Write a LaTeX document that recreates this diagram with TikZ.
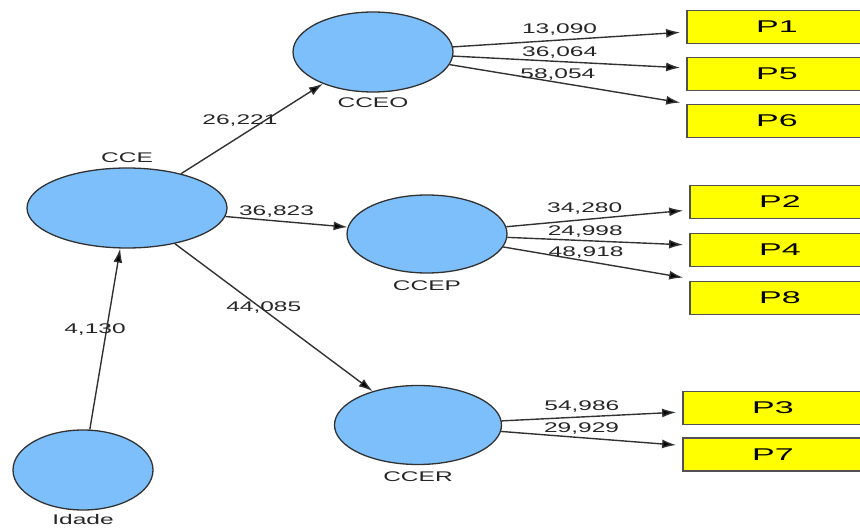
\documentclass[tikz,border=0pt]{standalone}
\usepackage{fontspec}
\setmainfont[FakeStretch=1.75]{Liberation Sans}
\newfontfamily\boxfont[FakeStretch=2]{Liberation Sans}
\usepackage{tikz}
\usetikzlibrary{positioning, arrows.meta, shapes.geometric}

\definecolor{latentblue}{RGB}{124,191,250}
\definecolor{itemyellow}{RGB}{255,255,0}
\definecolor{edgegray}{RGB}{50,50,50}

\tikzset{
  latent/.style={ellipse, draw=edgegray, line width=1.3pt, fill=latentblue, inner sep=0pt},
  item/.style={rectangle, draw=edgegray!85, line width=1.8pt, fill=itemyellow,
    minimum width=180pt, minimum height=33pt, inner sep=0pt,
    font=\boxfont\fontsize{17}{17}\selectfont},
  lbl/.style={font=\fontsize{14}{14}\selectfont, text=black!85, inner sep=0pt,
    xshift=-10pt, yshift=10pt},
  tobox/.style={shorten >=6pt}
}

\begin{document}
\begin{tikzpicture}
	[x=1pt, y=-1pt, on grid, >={Latex[length=14pt,width=9pt]},
	 every label/.style={font=\fontsize{14}{14}\selectfont, text=black!85, inner sep=0pt}]
   \useasboundingbox (0,0) rectangle (860,529);
   \clip (0,0) rectangle (860,529);
   % latent variables
   \node[latent, minimum width=200pt, minimum height=80pt, label={[label distance=5pt]above:CCE}] (cce) at (127,208) {};
   \node[latent, minimum width=160pt, minimum height=80pt, label={[label distance=5pt]below:CCEO}] (cceo) at (373,52) {};
   \node[latent, minimum width=160pt, minimum height=78pt, label={[label distance=7pt]below:CCEP}] (ccep) at (427,234) {};
   \node[latent, minimum width=167pt, minimum height=79pt, label={[label distance=6pt]below:CCER}] (ccer) at (418,425) {};
   \node[latent, minimum width=140pt, minimum height=80pt, label={[label distance=4pt]below:Idade}] (idade) at (83,470) {};
   % indicators
   \node[item] (p1) at (777,27) {P1};
   \node[item] (p5) [below=47pt of p1] {P5};
   \node[item] (p6) [below=47pt of p5] {P6};
   \node[item] (p2) at (780,202) {P2};
   \node[item] (p4) [below=48pt of p2] {P4};
   \node[item] (p8) [below=48pt of p4] {P8};
   \node[item] (p3) at (773,408) {P3};
   \node[item] (p7) [below=46.5pt of p3] {P7};
    \path[->, draw=edgegray, line width=1.4pt]
    (idade) edge node[lbl] {4,130} (cce)
    (cce)
          edge node[lbl, xshift=-2pt, yshift=-2pt] {26,221} (cceo)
          edge node[lbl] {36,823} (ccep)
          edge node[lbl] {44,085} (ccer)
    (cceo)
          edge[tobox] node[lbl] {13,090} ([yshift=-5pt]p1.west)
          edge[tobox] node[lbl] {36,064} ([yshift=6pt]p5.west)
          edge[tobox] node[lbl] {58,054} (p6.north west)
    (ccep)
          edge[tobox] node[lbl, xshift=-3pt] {34,280} ([yshift=-8pt]p2.west)
          edge[tobox] node[lbl, xshift=-3pt] {24,998} ([yshift=5pt]p4.west)
          edge[tobox] node[lbl] {48,918} ([yshift=2pt]p8.north west)
    (ccer)
          edge[tobox] node[lbl] {54,986} ([yshift=-4pt]p3.west)
          edge[tobox] node[lbl] {29,929} ([yshift=9pt]p7.west);

\end{tikzpicture}
\end{document}
